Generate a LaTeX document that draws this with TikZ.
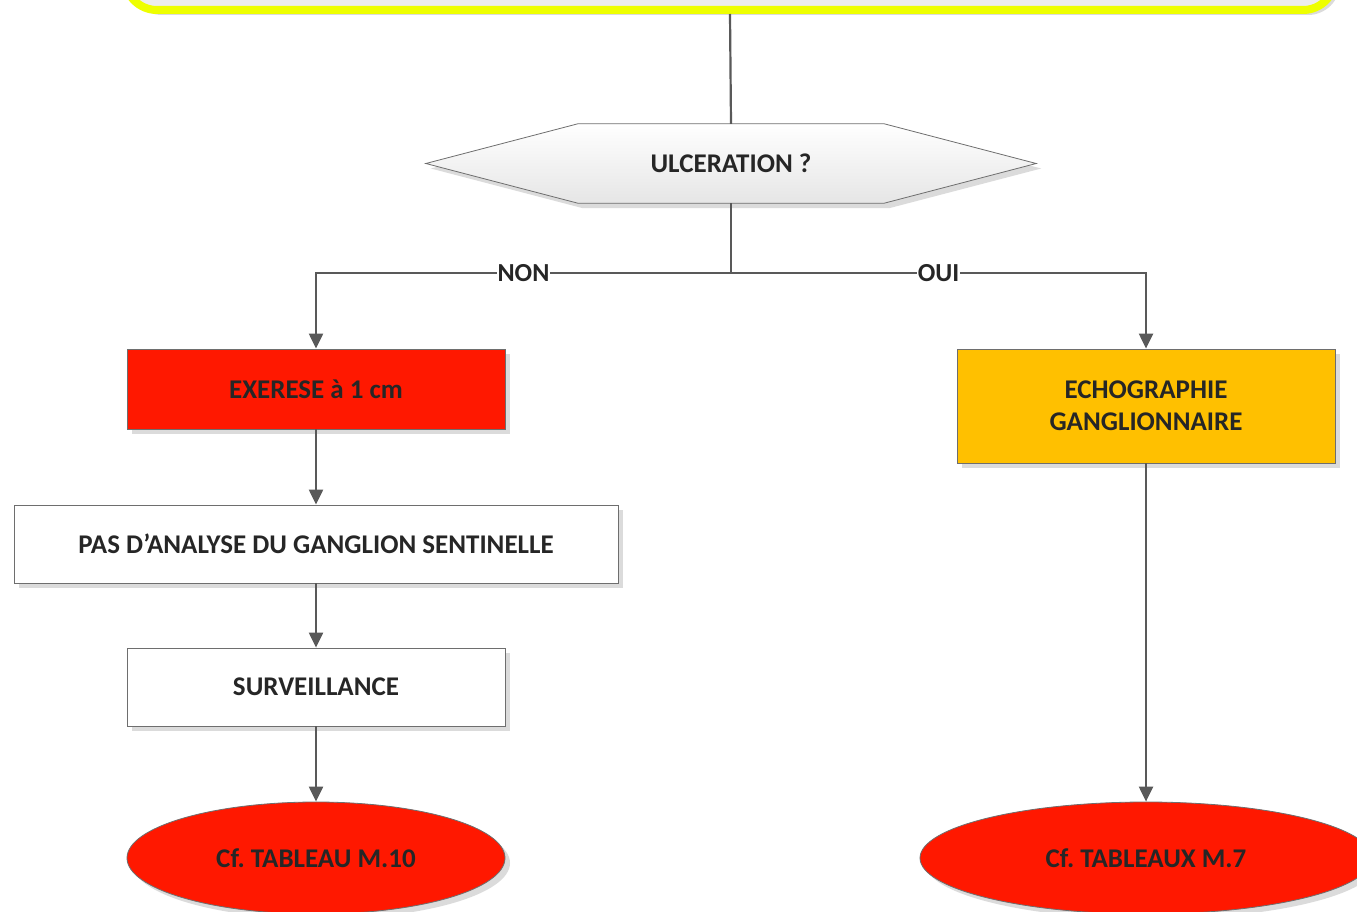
\documentclass[tikz,border=0pt]{standalone}
\usepackage{fontspec}
\setmainfont{Carlito}
\usetikzlibrary{arrows.meta,shadows,shapes.geometric}
\definecolor{rouge}{RGB}{255,24,0}
\definecolor{orange}{RGB}{255,192,0}
\definecolor{jaune}{RGB}{238,255,0}
\definecolor{lignegris}{RGB}{89,89,89}
\definecolor{bordgris}{RGB}{110,110,110}
\definecolor{texte}{RGB}{38,38,38}

\begin{document}
\begin{tikzpicture}[x=1pt,y=-1pt,
	ombre/.style={drop shadow={shadow xshift=5pt,shadow yshift=-5pt,fill=black!14,opacity=1}},
	boite/.style={draw=bordgris,line width=0.8pt,minimum width=378pt,minimum height=80pt,
		font=\fontsize{27}{32}\selectfont\bfseries,text=texte,align=center,ombre},
	bulle/.style={boite,shape=ellipse,inner sep=0pt},
	line/.style={draw=lignegris,line width=2.2pt},
	fleche/.style={line,-{Triangle[width=14pt,length=15pt]}},
	lab/.style={fill=white,inner sep=1pt,font=\fontsize{26}{30}\selectfont\bfseries,text=texte}]
	\useasboundingbox (0,0) rectangle (1357,912);
	\clip (0,0) rectangle (1357,912);

	\node[draw=jaune,line width=8pt,fill=black!7,rounded corners=32pt,minimum width=1210pt,minimum height=110pt,ombre] (haut) at (730,-45) {};
	\node[minimum width=306pt,minimum height=79pt,inner sep=0pt] (ulc) at (731,163.5) {};
	\draw[draw=bordgris,line width=0.8pt,top color=white,bottom color=black!10,ombre]
		([xshift=-152pt]ulc.west) -- (ulc.north west) -- (ulc.north east) -- ([xshift=152pt]ulc.east)
		-- (ulc.south east) -- (ulc.south west) -- cycle;
	\node[font=\fontsize{27}{32}\selectfont\bfseries,text=texte] at (ulc) {ULCERATION ?};

	\node[boite,fill=rouge] (exer) at (316,389) {EXERESE à 1 cm};
	\node[boite,fill=white,minimum width=604pt,minimum height=78pt] (pas) at (316,544) {PAS D’ANALYSE DU GANGLION SENTINELLE};
	\node[boite,fill=white,minimum height=78pt] (surv) at (316,687) {SURVEILLANCE};
	\node[bulle,fill=rouge,minimum width=378pt,minimum height=112pt] (tab10) at (316,858) {Cf.\ TABLEAU M.10};
	\node[boite,fill=orange,minimum height=114pt] (echo) at (1146,406) {ECHOGRAPHIE\\GANGLIONNAIRE};
	\node[bulle,fill=rouge,minimum width=452pt,minimum height=112pt] (tab7) at (1146,858) {Cf.\ TABLEAUX M.7};
	\coordinate (fourche) at (731,273);

	\draw[line] (haut.south) -- (ulc.north);
	\draw[line] (ulc.south) -- (fourche);
	\draw[fleche] (fourche) -| node[lab,pos=.25]{NON} (exer);
	\draw[fleche] (fourche) -| node[lab,pos=.25]{OUI} (echo);
	\draw[fleche] (exer) -- (pas);
	\draw[fleche] (pas) -- (surv);
	\draw[fleche] (surv) -- (tab10);
	\draw[fleche] (echo) -- (tab7);
\end{tikzpicture}
\end{document}
